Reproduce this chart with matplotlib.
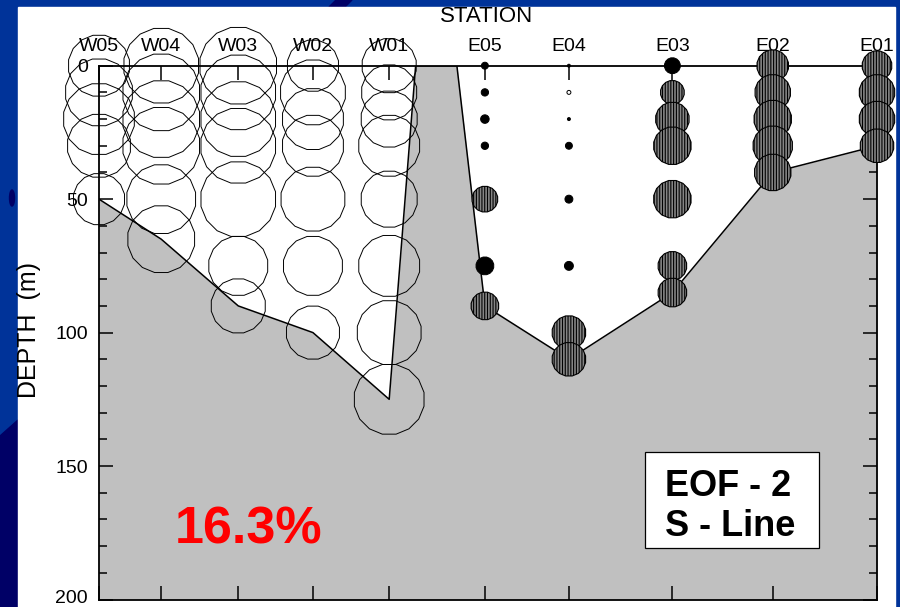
import numpy as np
import matplotlib
matplotlib.use('Agg')
import matplotlib.pyplot as plt
from matplotlib.patches import Rectangle, Polygon, Ellipse
from matplotlib.transforms import ScaledTranslation

plt.rcParams['font.family'] = ['Liberation Sans', 'DejaVu Sans']
plt.rcParams['hatch.linewidth'] = 0.8

# S-line stations, along-section distance (km)
stations = ['W05', 'W04', 'W03', 'W02', 'W01', 'E05', 'E04', 'E03', 'E02', 'E01']
station_km = [0.0, 8.0, 17.9, 27.5, 37.3, 49.6, 60.4, 73.7, 86.6, 100.0]

# bottom profile (the island between W01 and E05 reaches the surface)
bottom_km = [0.0, 8.0, 17.9, 27.5, 37.3, 40.7, 46.0, 49.6, 60.4, 73.7, 86.6, 100.0]
bottom_depth = [50, 65, 90, 100, 125, 0, 0, 90, 110, 85, 40, 30]

# sampling depths (m) per station
sample_depths = [
    [0, 10, 20, 30, 50],
    [0, 10, 20, 30, 50, 65],
    [0, 10, 20, 30, 50, 75, 90],
    [0, 10, 20, 30, 50, 75, 100],
    [0, 10, 20, 30, 50, 75, 100, 125],
    [0, 10, 20, 30, 50, 75, 90],
    [0, 10, 20, 30, 50, 75, 100, 110],
    [0, 10, 20, 30, 50, 75, 85],
    [0, 10, 20, 30, 40],
    [0, 10, 20, 30],
]

# EOF-2 loadings at each sample
eof2 = [
    [-0.31, -0.34, -0.36, -0.32, -0.26],
    [-0.38, -0.39, -0.39, -0.39, -0.35, -0.34],
    [-0.39, -0.38, -0.38, -0.38, -0.38, -0.30, -0.275],
    [-0.26, -0.33, -0.31, -0.31, -0.325, -0.30, -0.27],
    [-0.275, -0.28, -0.285, -0.31, -0.285, -0.31, -0.325, -0.355],
    [0.035, 0.037, 0.043, 0.037, 0.13, 0.09, 0.14],
    [0.015, -0.02, 0.015, 0.035, 0.04, 0.045, 0.17, 0.17],
    [0.08, 0.12, 0.17, 0.19, 0.19, 0.145, 0.145],
    [0.16, 0.18, 0.19, 0.20, 0.185],
    [0.15, 0.18, 0.18, 0.17],
]

variance_text = '16.3%'

W, H, DPI = 900, 607, 100


def fx(px):
    return px / W


def fy(py):
    return 1 - py / H


fig = plt.figure(figsize=(W / DPI, H / DPI), dpi=DPI, facecolor='#003399')

# slide background: white panel on blue with darker shapes
fig.add_artist(Polygon([(fx(0), fy(436)), (fx(18), fy(420)), (fx(18), fy(607)), (fx(0), fy(607))],
                       closed=True, transform=fig.transFigure, color='#000066', zorder=-11))
fig.add_artist(Polygon([(fx(336), fy(0)), (fx(352), fy(0)), (fx(345), fy(7)), (fx(329), fy(7))],
                       closed=True, transform=fig.transFigure, color='#000066', zorder=-11))
fig.add_artist(Ellipse((fx(12), fy(198)), 5 / W, 16 / H, transform=fig.transFigure,
                       color='#000066', zorder=-11))
fig.add_artist(Rectangle((fx(18), 0), (895 - 18) / W, (H - 7) / H, transform=fig.transFigure,
                         color='white', zorder=-10))

ax = fig.add_axes([fx(99), fy(599.5), (877 - 99) / W, (599.5 - 65.7) / H])
ax.set_facecolor('white')

ax.fill_between(bottom_km, bottom_depth, 200, color='#c0c0c0', lw=0, zorder=1)
ax.plot(bottom_km, bottom_depth, color='black', lw=1.1, zorder=2)

# marker size from loading: radius in pixels = 100 * |loading|
xs, ys, vals = [], [], []
for x, deps, vs in zip(station_km, sample_depths, eof2):
    for d, v in zip(deps, vs):
        xs.append(x)
        ys.append(d)
        vals.append(v)
xs = np.array(xs)
ys = np.array(ys)
vals = np.array(vals)
sizes = (2 * 100 * np.abs(vals) * 72 / DPI) ** 2

poly = (16, 0, 11.25)
neg = vals < 0
small = (vals > 0) & (vals < 0.1)
big = vals >= 0.1

ax.scatter(xs[neg], ys[neg], s=sizes[neg], marker=poly, facecolors='none',
           edgecolors='black', linewidths=0.7, zorder=3, clip_on=False)
ax.scatter(xs[small], ys[small], s=sizes[small], marker=poly, facecolors='black',
           edgecolors='black', linewidths=0.7, zorder=3, clip_on=False)
ax.scatter(xs[big], ys[big], s=sizes[big], marker=poly, facecolors='#858585',
           edgecolors='black', linewidths=0.8, hatch='||||||', zorder=3, clip_on=False)

ax.set_xlim(0, 100)
ax.set_ylim(200, 0)
ax.set_yticks(range(0, 201, 50))
ax.set_yticks(range(0, 201, 10), minor=True)
ax.set_xticks(station_km)
ax.set_xticklabels(stations)

ax.tick_params(axis='y', which='major', direction='in', length=10, width=1.1,
               left=True, right=True, labelsize=14, pad=8)
ax.tick_params(axis='y', which='minor', direction='in', length=5.8, width=1.1,
               left=True, right=True)
ax.tick_params(axis='x', direction='in', length=10, width=1.1, top=True, bottom=True,
               labeltop=True, labelbottom=False, labelsize=14, pad=8)
for sp in ax.spines.values():
    sp.set_linewidth(1.3)

# nudge the bottom depth label up so it stays on the page
fig.canvas.draw()
last = ax.get_yticklabels()[-1]
last.set_transform(last.get_transform() + ScaledTranslation(0, 2 / 72, fig.dpi_scale_trans))

fig.text(fx(487), fy(17), 'STATION', ha='center', va='center', fontsize=16)
fig.text(fx(29), fy(330), 'DEPTH  (m)', ha='center', va='center', rotation=90, fontsize=18)

fig.text(fx(175), fy(543), variance_text, ha='left', va='baseline', fontsize=37.5,
         fontweight='bold', color='#ff0000', zorder=5)

fig.add_artist(Rectangle((fx(645), fy(548)), (819 - 645) / W, (548 - 452) / H,
                         transform=fig.transFigure, facecolor='white', edgecolor='black',
                         lw=0.9, zorder=4))
fig.text(fx(665), fy(496), 'EOF - 2', ha='left', va='baseline', fontsize=26,
         fontweight='bold', zorder=5)
fig.text(fx(665), fy(536), 'S - Line', ha='left', va='baseline', fontsize=26,
         fontweight='bold', zorder=5)

fig.savefig('out.png', dpi=DPI, facecolor=fig.get_facecolor())
